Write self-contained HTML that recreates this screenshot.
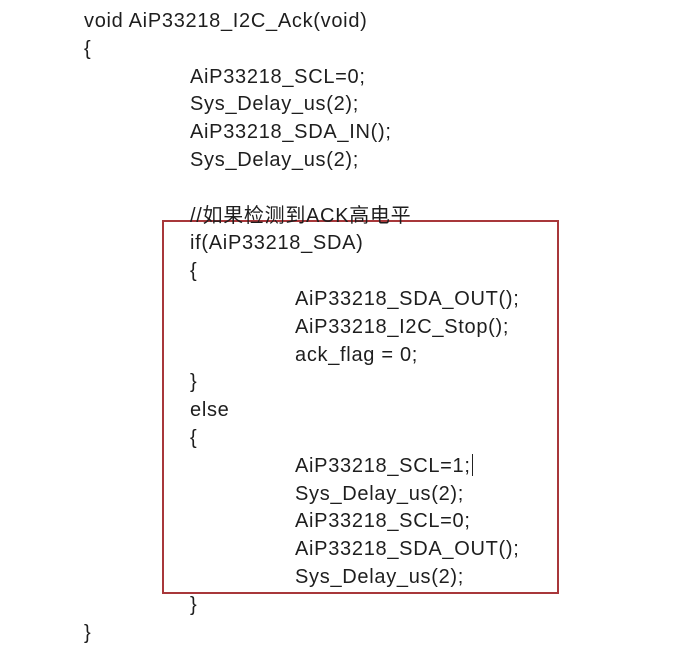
<!DOCTYPE html>
<html><head><meta charset="utf-8"><style>
html,body{margin:0;padding:0;background:#fff;width:696px;height:649px;overflow:hidden;position:relative}
.c{position:absolute;left:0;top:8px;font-family:"Liberation Sans","Noto Sans CJK SC",sans-serif;font-size:20px;line-height:27.8px;color:#1e1e1e;letter-spacing:0.7px}
.c div{height:27.8px;white-space:pre}
.a{padding-left:84px}.b{padding-left:190px}.d{padding-left:295px}
.box{position:absolute;left:162px;top:220px;width:393px;height:370px;border:2px solid #a8373a}
.cur{display:inline-block;width:1px;height:22px;background:#222;vertical-align:-4px;margin-left:1px}
</style></head><body>
<div class="box"></div>
<div class="c"><div class="a">void AiP33218_I2C_Ack(void)</div><div class="a">{</div><div class="b">AiP33218_SCL=0;</div><div class="b">Sys_Delay_us(2);</div><div class="b">AiP33218_SDA_IN();</div><div class="b">Sys_Delay_us(2);</div><div class="b"> </div><div class="b">//如果检测到ACK高电平</div><div class="b">if(AiP33218_SDA)</div><div class="b">{</div><div class="d">AiP33218_SDA_OUT();</div><div class="d">AiP33218_I2C_Stop();</div><div class="d">ack_flag = 0;</div><div class="b">}</div><div class="b">else</div><div class="b">{</div><div class="d">AiP33218_SCL=1;<span class="cur"></span></div><div class="d">Sys_Delay_us(2);</div><div class="d">AiP33218_SCL=0;</div><div class="d">AiP33218_SDA_OUT();</div><div class="d">Sys_Delay_us(2);</div><div class="b">}</div><div class="a">}</div></div>
</body></html>
